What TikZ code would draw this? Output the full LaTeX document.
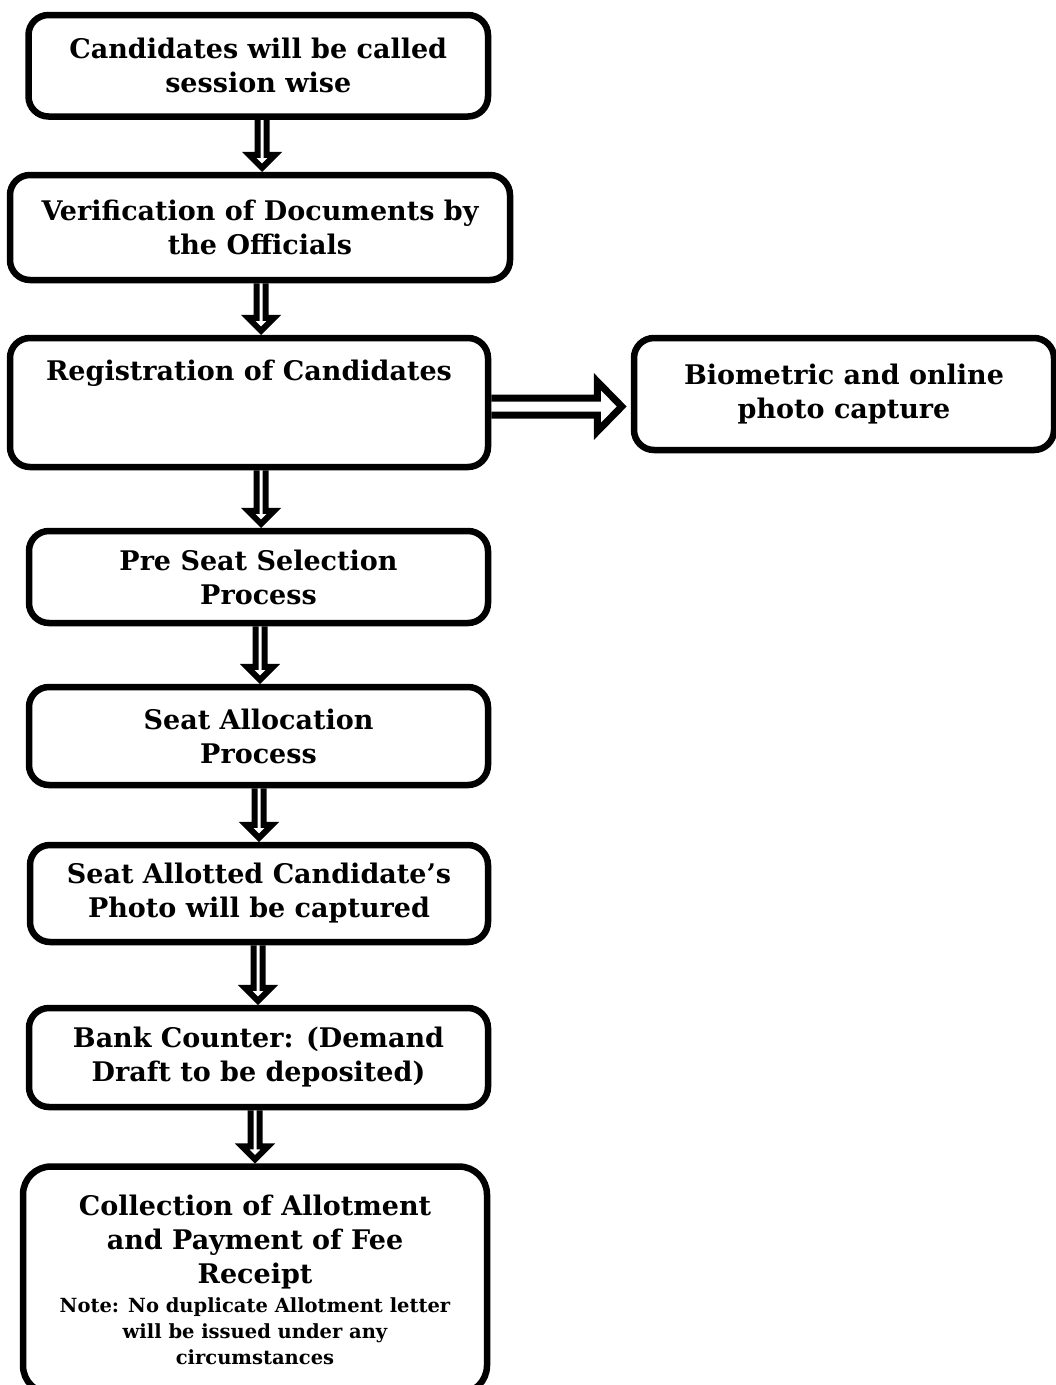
\documentclass[tikz,border=0pt]{standalone}
\usepackage{fontspec}
\setmainfont{DejaVu Serif}
\usetikzlibrary{calc}
\tikzset{
  box/.style={draw, line width=6.5pt, rounded corners=20pt, align=center,
    font=\bfseries\fontsize{27}{34}\selectfont, inner sep=0pt},
  flowarrow/.style={draw, line width=6pt, line join=miter},
  sidearrow/.style={draw, line width=7pt, line join=miter},
  boxtext/.style={align=center, font=\bfseries\fontsize{27}{34}\selectfont, inner sep=0pt}
}
\newcommand\vflow[3]{%
  \draw[flowarrow] let \p1=(#2.south), \p2=(#3.north) in
    (#1pt-4.5pt,\y1) -- (#1pt-4.5pt,\y2+17pt) -- (#1pt-13pt,\y2+17pt) --
    (#1pt,\y2+4pt) -- (#1pt+13pt,\y2+17pt) -- (#1pt+4.5pt,\y2+17pt) -- (#1pt+4.5pt,\y1);}
\begin{document}
\begin{tikzpicture}[x=1pt,y=-1pt]
\fill[white] (0,0) rectangle (1056,1385);
\useasboundingbox (0,0) rectangle (1056,1385);

\node[box, minimum width=459.5pt, minimum height=101.5pt] (b1) at (258.25,65.75)
  {Candidates will be called\\session wise};
\node[box, minimum width=500pt, minimum height=105pt] (b2) at (260,227.5)
  {Verification of Documents by\\the Officials};
\node[box, minimum width=478pt, minimum height=129pt] (b3) at (249,402.5) {};
\node[boxtext] (t3) at (249,373) {Registration of Candidates};
\node[box, minimum width=420pt, minimum height=112pt] (b4) at (844,394)
  {Biometric and online\\photo capture};
\node[box, minimum width=459pt, minimum height=92pt] (b5) at (258.5,577)
  {Pre Seat Selection\\Process};
\node[box, minimum width=459pt, minimum height=98pt] (b6) at (258.5,736)
  {Seat Allocation\\Process};
\node[box, minimum width=458pt, minimum height=97pt] (b7) at (259,893.5)
  {Seat Allotted Candidate’s\\Photo will be captured};
\node[box, minimum width=459pt, minimum height=99pt] (b8) at (258.5,1057.5)
  {Bank Counter: (Demand\\Draft to be deposited)};
\node[box, rounded corners=28pt, minimum width=464pt, minimum height=227pt] (b9) at (255,1280)
  {Collection of Allotment\\and Payment of Fee\\Receipt\\[-5pt]
   \fontsize{19.5}{26}\selectfont Note: No duplicate Allotment letter\\[-8pt]
   \fontsize{19.5}{26}\selectfont will be issued under any\\[-8pt]
   \fontsize{19.5}{26}\selectfont circumstances};

\vflow{262}{b1}{b2}
\vflow{261}{b2}{b3}
\vflow{261}{b3}{b5}
\vflow{260}{b5}{b6}
\vflow{259}{b6}{b7}
\vflow{258}{b7}{b8}
\vflow{255}{b8}{b9}

\draw[sidearrow] let \p1=(b3.east), \p2=(b4.west) in
  (\x1,-398pt) -- (\x2-33.5pt,-398pt) -- (\x2-33.5pt,-381.5pt) -- (\x2-9pt,-406.5pt) --
  (\x2-33.5pt,-431.5pt) -- (\x2-33.5pt,-415pt) -- (\x1,-415pt);
\end{tikzpicture}
\end{document}
